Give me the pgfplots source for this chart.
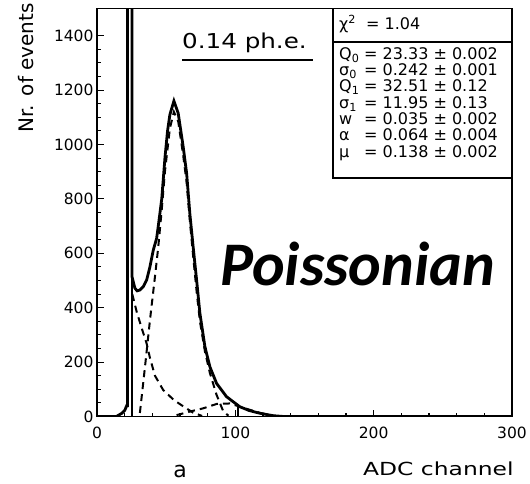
\documentclass[border=0pt]{standalone}
\usepackage{fontspec}
\setmainfont{DejaVu Sans}
\newfontfamily\carlito{Carlito}
\usepackage{graphicx}
\usepackage{pgfplots}
\pgfplotsset{compat=1.18}
\begin{document}
\begin{tikzpicture}
\useasboundingbox (0,0) rectangle (530pt,483pt);
\begin{axis}[
 at={(97pt,66.5pt)}, anchor=south west,
 scale only axis, width=415pt, height=408pt,
 xmin=0, xmax=300, ymin=0, ymax=1500,
 xtick={0,100,200,300}, ytick={0,200,...,1400},
 minor x tick num=4, minor y tick num=3,
 tick align=inside, xtick pos=left, ytick pos=left,
 major tick length=7pt, minor tick length=4pt,
 tick style={black, line width=1.1pt},
 axis line style={line width=1.6pt},
 ticklabel style={font=\fontsize{15.5}{17}\selectfont},
 xticklabel style={yshift=-7pt},
 /pgf/number format/assume math mode=true,
 /pgf/number format/1000 sep={},
]
% measured histogram
\addplot[black, line width=2.8pt] coordinates {
(0,0)(14,0)(16,6)(18,12)(20,22)(21.5,40)(22,40)(22,1700)(25.3,1700)(25.3,514)
(27.4,472)(29,462)(31,465)(33.4,477)(35.9,502)(38.3,551)(40.7,612)(43.1,655)
(44.3,700)(46.8,800)(49.1,950)(51,1050)(52.7,1110)(55.6,1160)(58.7,1115)(62.3,992)
(64.8,894)(67.1,747)(69.5,624)(72,502)(74.4,379)(78,257)(81.6,183)(86.4,122)
(93.6,73)(103.2,36)(110,22)(117.7,12)(127.3,3)(135,0)(300,0)};
% pedestal fit line
\addplot[black, line width=1.3pt] coordinates {(25.3,0)(25.3,1700)};
% exponential background
\addplot[black, line width=2pt, dash pattern=on 7pt off 5pt] coordinates {
(25.5,450)(28.7,385)(32.3,325)(35.9,268)(38.3,215)(41.9,150)(47.9,97)(55.5,61)
(62.7,36)(69.5,14)(76,2)};
% 1 p.e. component
\addplot[black, line width=2pt, dash pattern=on 7pt off 5pt] coordinates {
(31,13)(34.7,183)(38.3,355)(41.9,514)(44.3,624)(46.8,760)(49.1,900)(52.7,1060)
(55.6,1120)(58.7,1085)(62.3,960)(64.8,860)(67.1,720)(69.5,590)(72,460)(74.4,350)
(78,240)(81.6,160)(86.4,80)(91.2,20)(95,3)};
% 2 p.e. component
\addplot[black, line width=2pt, dash pattern=on 7pt off 5pt] coordinates {
(57.5,5)(67.1,18)(76.7,30)(86.4,46)(96,48)(107,30)(118,13)(128,2)};
% small marker
\addplot[black, line width=1.3pt] coordinates {(102,0)(102,45)};
\end{axis}
% fit result box
\draw[line width=1.4pt] (333pt,305pt) rectangle (512pt,474.5pt);
\draw[line width=1.2pt] (333pt,441pt) -- (512pt,441pt);
\begin{scope}[every node/.style={anchor=base west, inner sep=0pt, font=\fontsize{16}{18}\selectfont}]
\node at (339pt,453pt) {χ\textsuperscript{2}};
\node at (366pt,453pt) {= 1.04};
\node at (339pt,423pt) {Q\textsubscript{0}};
\node at (364pt,423pt) {= 23.33 ± 0.002};
\node at (339pt,407pt) {σ\textsubscript{0}};
\node at (364pt,407pt) {= 0.242 ± 0.001};
\node at (339pt,391pt) {Q\textsubscript{1}};
\node at (364pt,391pt) {= 32.51 ± 0.12};
\node at (339pt,374.5pt) {σ\textsubscript{1}};
\node at (364pt,374.5pt) {= 11.95 ± 0.13};
\node at (339pt,358pt) {w};
\node at (364pt,358pt) {= 0.035 ± 0.002};
\node at (339pt,342pt) {α};
\node at (364pt,342pt) {= 0.064 ± 0.004};
\node at (339pt,326pt) {μ};
\node at (364pt,326pt) {= 0.138 ± 0.002};
\end{scope}
% annotations
\node[anchor=base west, inner sep=0pt] at (182pt,434.7pt) {\scalebox{1.2}[1]{\fontsize{20.5}{22}\selectfont 0.14 ph.e.}};
\draw[line width=1.5pt] (182pt,423pt) -- (313pt,423pt);
\node[anchor=base west, inner sep=0pt, font=\carlito\bfseries\itshape\fontsize{62}{64}\selectfont] at (220pt,198pt) {Poissonian};
\node[rotate=90, anchor=base east, inner sep=0pt, font=\fontsize{20}{22}\selectfont] at (33pt,480pt) {Nr. of events};
\node[anchor=base west, inner sep=0pt] at (363pt,8pt) {\scalebox{1.3}[1]{\fontsize{18}{20}\selectfont ADC channel}};
\node[anchor=base, inner sep=0pt, font=\fontsize{22}{24}\selectfont] at (180pt,6pt) {a};
\end{tikzpicture}
\end{document}
